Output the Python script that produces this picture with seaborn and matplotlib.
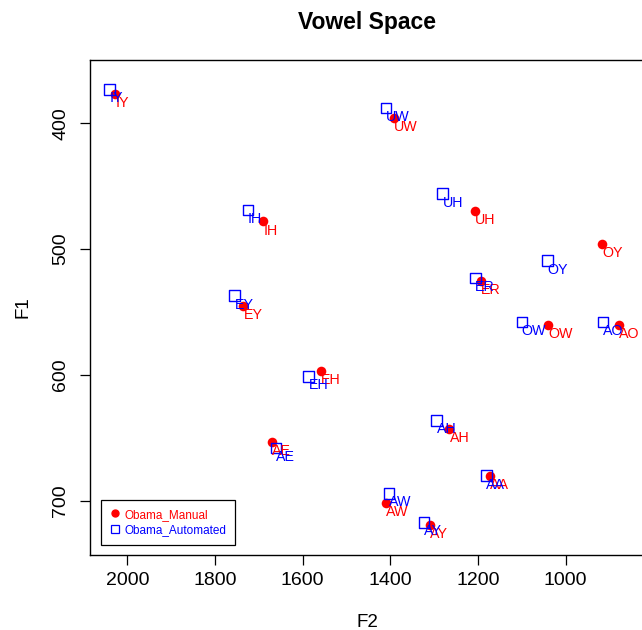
import matplotlib
matplotlib.use("Agg")
import matplotlib.pyplot as plt
import seaborn as sns
import pandas as pd
from matplotlib.lines import Line2D

vowels = ["IY", "IH", "EY", "EH", "AE", "AA", "AH", "AO", "OW", "UH", "UW", "ER", "AW", "AY", "OY"]

manual_f2 = [2027, 1690, 1735, 1558, 1669, 1173, 1265, 879, 1040, 1206, 1391, 1194, 1410, 1310, 917]
manual_f1 = [377, 478, 545, 597, 653, 680, 643, 560, 560, 470, 396, 525, 702, 719, 496]

auto_f2 = [2040, 1725, 1755, 1586, 1661, 1181, 1294, 915, 1100, 1281, 1410, 1206, 1403, 1323, 1042]
auto_f1 = [373, 469, 537, 601, 658, 680, 636, 558, 558, 456, 388, 523, 694, 717, 509]

series_names = ["Obama_Manual", "Obama_Automated"]
x_ticks = [2000, 1800, 1600, 1400, 1200, 1000]
y_ticks = [400, 500, 600, 700]

df_manual = pd.DataFrame({"vowel": vowels, "F2": manual_f2, "F1": manual_f1})
df_auto = pd.DataFrame({"vowel": vowels, "F2": auto_f2, "F1": auto_f1})

sns.set_theme(style="white")
plt.rcParams["font.family"] = ["Liberation Sans", "DejaVu Sans"]
plt.rcParams["text.color"] = "black"
plt.rcParams["axes.labelcolor"] = "black"
plt.rcParams["xtick.color"] = "black"
plt.rcParams["ytick.color"] = "black"

W, H = 642, 630
fig = plt.figure(figsize=(W / 100, H / 100), dpi=100)
left_px, right_px, top_px, bottom_px = 90, 645, 60, 555
ax = fig.add_axes([left_px / W, 1 - bottom_px / H, (right_px - left_px) / W, (bottom_px - top_px) / H])

red = "#FF0000"
blue = "#0000FF"

sns.scatterplot(data=df_manual, x="F2", y="F1", ax=ax, marker="o", s=48, color=red,
                edgecolor=red, linewidth=0, zorder=3, legend=False)
sns.scatterplot(data=df_auto, x="F2", y="F1", ax=ax, marker="s", s=58, facecolor="none",
                edgecolor=blue, linewidth=1.0, zorder=4, legend=False)

for df, col in ((df_manual, red), (df_auto, blue)):
    for _, r in df.iterrows():
        ax.annotate(r["vowel"], (r["F2"], r["F1"]), xytext=(0, -1.5), textcoords="offset points",
                    ha="left", va="top", fontsize=10.3, color=col, zorder=5)

ax.set_xlim(2085, 819)
ax.set_ylim(743, 349.7)
ax.set_xticks(x_ticks)
ax.set_xticklabels([str(t) for t in x_ticks])
ax.set_yticks(y_ticks)
ax.set_yticklabels([str(t) for t in y_ticks], rotation=90, va="center")
ax.tick_params(axis="both", which="both", direction="out", length=7, width=0.9, color="black",
               labelsize=14, labelcolor="black", bottom=True, left=True)
ax.tick_params(axis="x", pad=5.5)
ax.tick_params(axis="y", pad=8)

for sp in ax.spines.values():
    sp.set_visible(True)
    sp.set_color("black")
    sp.set_linewidth(1.0)

ax.set_xlabel("F2", fontsize=13.5, labelpad=18, color="black")
ax.set_ylabel("F1", fontsize=13.5, labelpad=15, color="black")
ax.set_title("Vowel Space", fontsize=16.5, fontweight="bold", pad=22, color="black")

handles = [
    Line2D([], [], marker="o", linestyle="none", markersize=5, markerfacecolor=red, markeredgecolor=red),
    Line2D([], [], marker="s", linestyle="none", markersize=5.5, markerfacecolor="none",
           markeredgecolor=blue, markeredgewidth=0.9),
]
leg = ax.legend(handles, series_names, loc="lower left", bbox_to_anchor=(0.0198, 0.0202),
                borderaxespad=0, fontsize=8.5, frameon=True, fancybox=False, framealpha=1,
                edgecolor="black", borderpad=0.75, handlelength=0.8, handletextpad=0.45,
                labelspacing=0.3)
leg.get_frame().set_linewidth(0.9)
for t, c in zip(leg.get_texts(), [red, blue]):
    t.set_color(c)

fig.savefig("out.png", dpi=100)
